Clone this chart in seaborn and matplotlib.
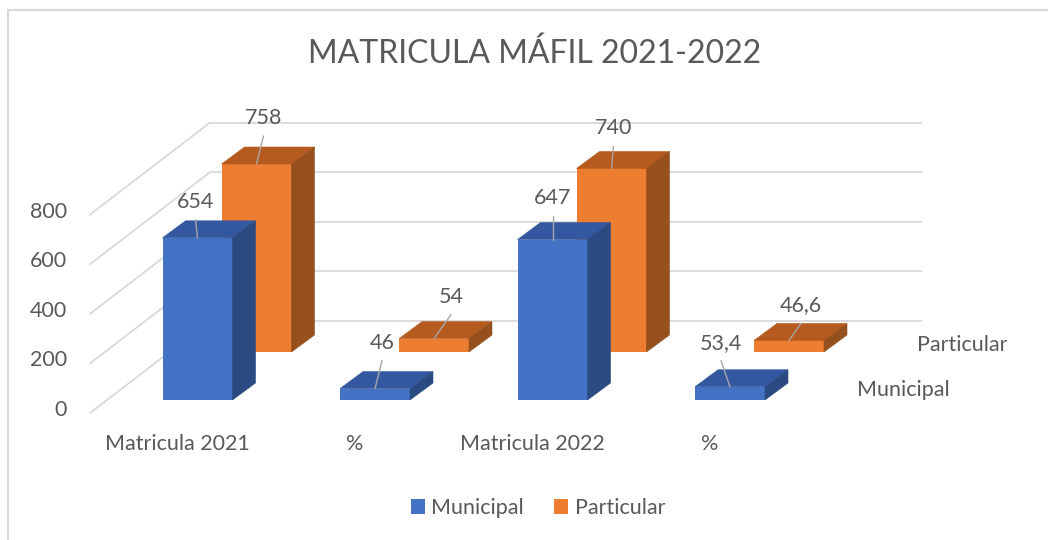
import numpy as np
import pandas as pd
import matplotlib
matplotlib.use("Agg")
import matplotlib.pyplot as plt
import seaborn as sns
from matplotlib.patches import Polygon, Rectangle, Patch

# ---------------- data ----------------
categories = ["Matricula 2021", "%", "Matricula 2022", "%"]
municipal = [654, 46, 647, 53.4]
particular = [758, 54, 740, 46.6]
municipal_labels = ["654", "46", "647", "53,4"]
particular_labels = ["758", "54", "740", "46,6"]
series_names = ["Municipal", "Particular"]
y_ticks = [0, 200, 400, 600, 800]
title = "MATRICULA MÁFIL 2021-2022"

# ---------------- style / geometry (pixels) ----------------
W, H = 1048, 540
BLUE, BLUE_TOP, BLUE_SIDE = "#4472C4", "#3458A0", "#2B4A82"
ORANGE, ORANGE_TOP, ORANGE_SIDE = "#ED7D31", "#B65B1F", "#96501D"
TXT = "#595959"
GRID = "#D9D9D9"
CAT0, STEP = 197.5, 177.5      # first category centre, category spacing
BASE = 400                      # municipal baseline (image y)
PPU = 0.248                     # pixels per value unit
ROW = (59, 48)                  # offset of the back row
DEPTH = (23, 17)                # bar depth
BAR_W = 70
WALL_BASE = 321
FS = 15.5

sns.set_theme(style="white")
plt.rcParams["font.family"] = ["Lato", "DejaVu Sans"]

fig = plt.figure(figsize=(W / 100, H / 100), dpi=100)
fig.patch.set_facecolor("white")

# ---------- back wall / grid axes (value units vertically) ----------
axw = fig.add_axes([0, 0, 1, 1], zorder=0)
axw.set_xlim(0, W)
axw.set_ylim(-(H - WALL_BASE) / PPU, WALL_BASE / PPU)
axw.axis("off")
drop = 92 / PPU
axw.hlines(y_ticks, 210, 922, color=GRID, lw=1.3)
for v in y_ticks:
    axw.plot([90, 210], [v - drop, v], color=GRID, lw=1.3)
    axw.text(67, v - drop + 3 / PPU, f"{v}", ha="right", va="center",
             fontsize=FS, color=TXT)


def make_axes(dx, dy, z):
    base = BASE - dy
    ax = fig.add_axes([dx / W, (H - base) / H, 1, base / H], zorder=z)
    return ax, base


def draw_series(ax, base, values, labels, color, top_c, side_c, offsets):
    keys = [f"{c}_{i}" for i, c in enumerate(categories)]
    df = pd.DataFrame({"key": keys, "value": values})
    sns.barplot(data=df, x="key", y="value", order=keys, color=color,
                saturation=1, width=BAR_W / STEP, ax=ax, linewidth=0,
                errorbar=None)
    ax.set_xlim(-CAT0 / STEP, (W - CAT0) / STEP)
    ax.set_ylim(0, base / PPU)
    ax.axis("off")
    ax.patch.set_visible(False)
    du, dv = DEPTH[0] / STEP, DEPTH[1] / PPU
    for p, lab, off in zip(list(ax.patches), labels, offsets):
        x0, w, h = p.get_x(), p.get_width(), p.get_height()
        top = Polygon([(x0, h), (x0 + w, h), (x0 + w + du, h + dv), (x0 + du, h + dv)],
                      closed=True, fc=top_c, ec=top_c, lw=0.4)
        side = Polygon([(x0 + w, 0), (x0 + w, h), (x0 + w + du, h + dv), (x0 + w + du, dv)],
                       closed=True, fc=side_c, ec=side_c, lw=0.4)
        ax.add_patch(top)
        ax.add_patch(side)
        cx = x0 + w / 2
        lx, ly = cx + off[0] / STEP, h - off[1] / PPU
        ax.text(lx, ly, lab, ha="center", va="center", fontsize=FS, color=TXT, zorder=5)
        ax.plot([lx, cx], [ly - 18 / PPU, h], color="#A6A6A6", lw=1, zorder=4)


mun_off = [(-2, -36), (7, -46), (0, -42), (-9, -44)]
par_off = [(7, -46), (17, -42), (2, -40), (12, -35)]

ax1, base1 = make_axes(ROW[0], ROW[1], 1)
draw_series(ax1, base1, particular, particular_labels, ORANGE, ORANGE_TOP, ORANGE_SIDE, par_off)
ax0, base0 = make_axes(0, 0, 2)
draw_series(ax0, base0, municipal, municipal_labels, BLUE, BLUE_TOP, BLUE_SIDE, mun_off)

# category labels
for i, c in enumerate(categories):
    ax0.text(i - 20 / STEP, -(444 - BASE) / PPU, c, ha="center", va="center",
             fontsize=FS, color=TXT, clip_on=False)

# depth-axis labels
fig.text(917 / W, 1 - 345 / H, series_names[1], ha="left", va="center", fontsize=FS, color=TXT)
fig.text(857 / W, 1 - 390 / H, series_names[0], ha="left", va="center", fontsize=FS, color=TXT)

# title
fig.text(535 / W, 1 - 54 / H, title, ha="center", va="center", fontsize=23, color=TXT)

# legend
handles = [Patch(facecolor=BLUE, edgecolor="none"), Patch(facecolor=ORANGE, edgecolor="none")]
leg = fig.legend(handles, series_names, loc="center", bbox_to_anchor=(538 / W, 1 - 508 / H),
                 ncol=2, frameon=False, fontsize=FS, handlelength=0.65, handleheight=0.65,
                 handletextpad=0.3, columnspacing=1.4, labelcolor=TXT)

# chart border
fig.patches.append(Rectangle((8 / W, -0.1), 1.2, (H - 10) / H + 0.1, transform=fig.transFigure,
                             fill=False, ec=GRID, lw=1.5))

fig.savefig("out.png", dpi=100, facecolor="white")
